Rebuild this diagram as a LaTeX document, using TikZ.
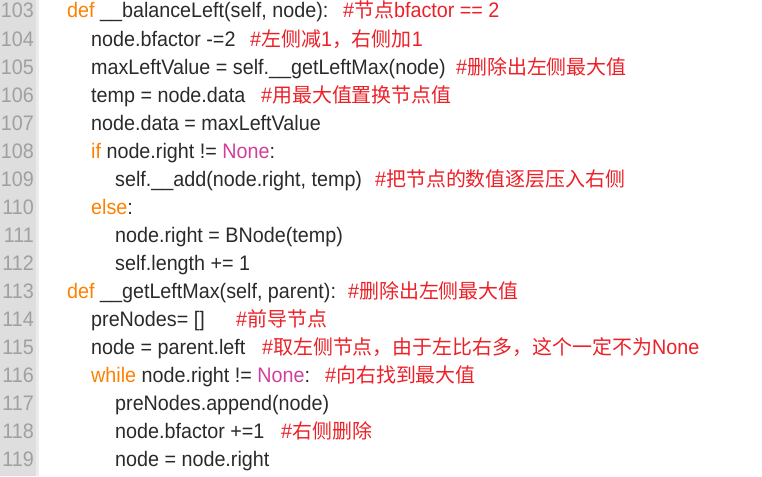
\documentclass[tikz,border=0pt]{standalone}
\usepackage{fontspec}
\setmainfont{Liberation Sans}[FakeStretch=0.94]
\newfontfamily\cjkfont{Noto Sans CJK SC}[Scale=0.95]
\definecolor{kworange}{HTML}{FF8000}
\definecolor{nonepink}{HTML}{D0409A}
\definecolor{cmtred}{HTML}{EC2027}
\definecolor{codegray}{HTML}{2A2A2A}
\definecolor{numgray}{HTML}{A0A0A0}
\definecolor{gutterdark}{HTML}{DEDEDE}
\definecolor{gutterlight}{HTML}{ECECEC}
\newcommand{\kw}[1]{\textcolor{kworange}{#1}}
\newcommand{\nonekw}[1]{\textcolor{nonepink}{#1}}
\newcommand{\zh}[1]{{\cjkfont #1}}

\begin{document}
\begin{tikzpicture}[x=1pt,y=-1pt,
    code/.style={anchor=base west,inner sep=0pt,text=codegray,font=\fontsize{21}{21}\selectfont},
    cmt/.style={code,text=cmtred},
    lnum/.style={anchor=base east,inner sep=0pt,text=numgray,font=\fontsize{21}{21}\selectfont}]
    \useasboundingbox (0,0) rectangle (762,476);
    % gutter
    \fill[gutterdark] (0,0) rectangle (36,476);
    \fill[gutterlight] (36,0) rectangle (39,476);
    \foreach \n [count=\i from 0] in {103,...,119}
      \node[lnum] (n\n) at (34,{18+28.04*\i}) {\n};
    % code lines
    \node[code] (l103) at (67,18) {\kw{def} \_\_balanceLeft(self, node):};
    \node[cmt] (c103) at (343,18) {\#\zh{节点}bfactor == 2};
    \node[code] (l104) at (91,46.04) {node.bfactor -=2};
    \node[cmt] (c104) at (250,46.04) {\#\zh{左侧减}1\zh{，右侧加}1};
    \node[code] (l105) at (91,74.08) {maxLeftValue = self.\_\_getLeftMax(node)};
    \node[cmt] (c105) at (456,74.08) {\#\zh{删除出左侧最大值}};
    \node[code] (l106) at (91,102.12) {temp = node.data};
    \node[cmt] (c106) at (261,102.12) {\#\zh{用最大值置换节点值}};
    \node[code] (l107) at (91,130.16) {node.data = maxLeftValue};
    \node[code] (l108) at (91,158.2) {\kw{if} node.right != \nonekw{None}:};
    \node[code] (l109) at (115,186.24) {self.\_\_add(node.right, temp)};
    \node[cmt] (c109) at (375,186.24) {\#\zh{把节点的数值逐层压入右侧}};
    \node[code] (l110) at (91,214.28) {\kw{else}:};
    \node[code] (l111) at (115,242.32) {node.right = BNode(temp)};
    \node[code] (l112) at (115,270.36) {self.length += 1};
    \node[code] (l113) at (67,298.4) {\kw{def} \_\_getLeftMax(self, parent):};
    \node[cmt] (c113) at (348,298.4) {\#\zh{删除出左侧最大值}};
    \node[code] (l114) at (91,326.44) {preNodes= []};
    \node[cmt] (c114) at (236,326.44) {\#\zh{前导节点}};
    \node[code] (l115) at (91,354.48) {node = parent.left};
    \node[cmt] (c115) at (262,354.48) {\#\zh{取左侧节点，由于左比右多，这个一定不为}None};
    \node[code] (l116) at (91,382.52) {\kw{while} node.right != \nonekw{None}:};
    \node[cmt] (c116) at (325,382.52) {\#\zh{向右找到最大值}};
    \node[code] (l117) at (115,410.56) {preNodes.append(node)};
    \node[code] (l118) at (115,438.6) {node.bfactor +=1};
    \node[cmt] (c118) at (281,438.6) {\#\zh{右侧删除}};
    \node[code] (l119) at (115,466.64) {node = node.right};
\end{tikzpicture}
\end{document}
